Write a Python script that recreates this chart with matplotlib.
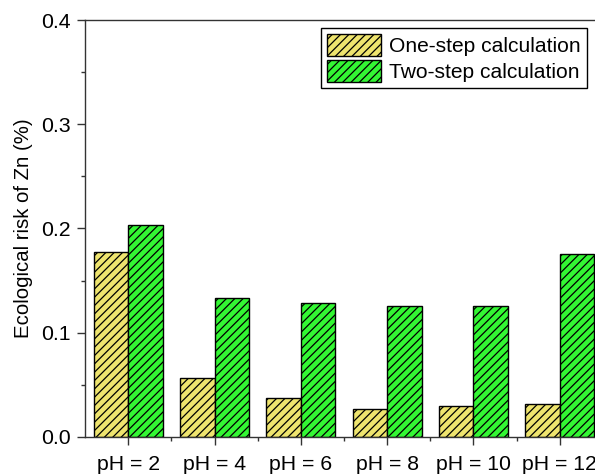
import numpy as np
import matplotlib.pyplot as plt
from matplotlib.ticker import MultipleLocator, FixedLocator

plt.rcParams['font.family'] = ['Liberation Sans', 'DejaVu Sans']
plt.rcParams['hatch.linewidth'] = 0.9

categories = ["pH = 2", "pH = 4", "pH = 6", "pH = 8", "pH = 10", "pH = 12"]
one_step = [0.1776, 0.0566, 0.0371, 0.0272, 0.0294, 0.0314]
two_step = [0.2032, 0.1334, 0.1283, 0.1254, 0.1261, 0.1757]

x = np.arange(1, len(categories) + 1)
w = 0.4

fig = plt.figure(figsize=(5.95, 4.75), dpi=100)
ax = fig.add_axes([85 / 595, 38 / 475, 518 / 595, 417 / 475])

ax.bar(x - w / 2, one_step, w, color="#EEE46E", edgecolor="black", linewidth=1,
       hatch="////", label="One-step calculation")
ax.bar(x + w / 2, two_step, w, color="#33F733", edgecolor="black", linewidth=1,
       hatch="////", label="Two-step calculation")

ax.set_xlim(0.5, 6.5)
ax.set_ylim(0, 0.4)
ax.set_xticks(x)
ax.set_xticklabels(categories)
ax.xaxis.set_minor_locator(FixedLocator(x[:-1] + 0.5))
ax.yaxis.set_major_locator(MultipleLocator(0.1))
ax.yaxis.set_minor_locator(MultipleLocator(0.05))
ax.yaxis.set_major_formatter(plt.FormatStrFormatter("%.1f"))

ax.tick_params(axis="both", which="major", direction="out", length=6, width=1,
               labelsize=15.3, color="#333333")
ax.tick_params(axis="both", which="minor", direction="out", length=3, width=1,
               color="#333333")
ax.tick_params(axis="x", which="major", pad=7)
ax.tick_params(axis="y", which="major", pad=4)

for s in ax.spines.values():
    s.set_linewidth(1)
    s.set_color("#333333")

ax.set_ylabel("Ecological risk of Zn (%)", fontsize=14.7, labelpad=6)

ax.legend(loc="upper right", bbox_to_anchor=(587 / 595, 1 - 28 / 475),
          bbox_transform=fig.transFigure, borderaxespad=0, fontsize=15.1,
          frameon=True, fancybox=False, edgecolor="black", framealpha=1,
          handlelength=2.55, handleheight=1.25, borderpad=0.3,
          labelspacing=0.15, handletextpad=0.4)

fig.savefig("out.png", dpi=100)
